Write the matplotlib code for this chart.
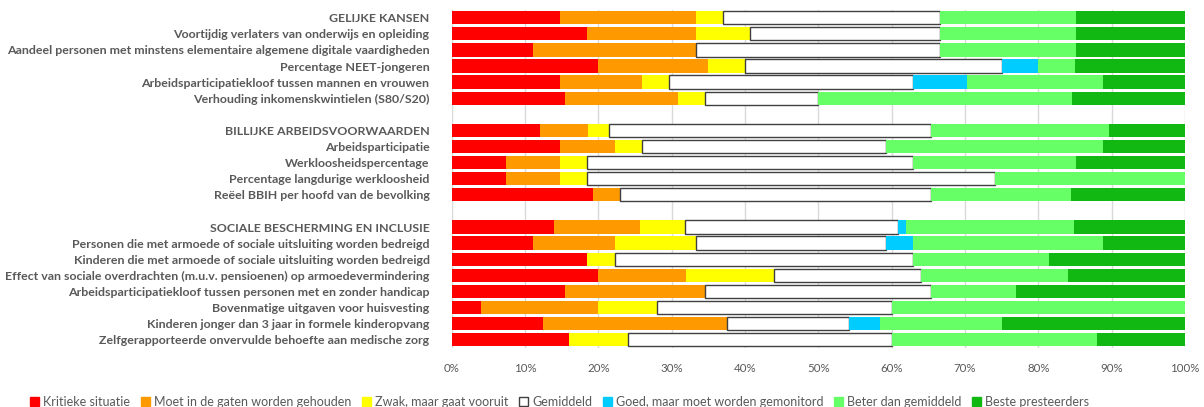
import numpy as np
import matplotlib
matplotlib.use("Agg")
import matplotlib.pyplot as plt
from matplotlib.patches import Patch

plt.rcParams['font.family'] = ['Lato', 'DejaVu Sans']

# rijen van boven naar onder, '' = lege tussenregel
labels = ["GELIJKE KANSEN",
          "Voortijdig verlaters van onderwijs en opleiding",
          "Aandeel personen met minstens elementaire algemene digitale vaardigheden",
          "Percentage NEET-jongeren",
          "Arbeidsparticipatiekloof tussen mannen en vrouwen",
          "Verhouding inkomenskwintielen (S80/S20)",
          "",
          "BILLIJKE ARBEIDSVOORWAARDEN",
          "Arbeidsparticipatie",
          "Werkloosheidspercentage",
          "Percentage langdurige werkloosheid",
          "Reëel BBIH per hoofd van de bevolking",
          "",
          "SOCIALE BESCHERMING EN INCLUSIE",
          "Personen die met armoede of sociale uitsluiting worden bedreigd",
          "Kinderen die met armoede of sociale uitsluiting worden bedreigd",
          "Effect van sociale overdrachten (m.u.v. pensioenen) op armoedevermindering",
          "Arbeidsparticipatiekloof tussen personen met en zonder handicap",
          "Bovenmatige uitgaven voor huisvesting",
          "Kinderen jonger dan 3 jaar in formele kinderopvang",
          "Zelfgerapporteerde onvervulde behoefte aan medische zorg"]

series = ["Kritieke situatie", "Moet in de gaten worden gehouden", "Zwak, maar gaat vooruit",
          "Gemiddeld", "Goed, maar moet worden gemonitord", "Beter dan gemiddeld",
          "Beste presteerders"]

# aandelen in %
kritiek = [14.8, 18.5, 11.1, 20.0, 14.8, 15.4, 0, 12.1, 14.8, 7.4, 7.4, 19.2, 0,
           14.0, 11.1, 18.5, 20.0, 15.4, 4.0, 12.5, 16.0]
gaten = [18.5, 14.8, 22.2, 15.0, 11.1, 15.4, 0, 6.5, 7.4, 7.4, 7.4, 3.8, 0,
         11.7, 11.1, 0, 12.0, 19.2, 16.0, 25.0, 0]
zwak = [3.7, 7.4, 0, 5.0, 3.7, 3.8, 0, 2.8, 3.7, 3.7, 3.7, 0, 0,
        6.1, 11.1, 3.7, 12.0, 0, 8.0, 0, 8.0]
gemiddeld = [29.6, 25.9, 33.3, 35.0, 33.3, 15.4, 0, 43.9, 33.3, 44.4, 55.6, 42.3, 0,
             29.1, 25.9, 40.7, 20.0, 30.8, 32.0, 16.7, 36.0]
goed = [0, 0, 0, 5.0, 7.4, 0, 0, 0, 0, 0, 0, 0, 0,
        1.1, 3.7, 0, 0, 0, 0, 4.2, 0]
beter = [18.5, 18.5, 18.5, 5.0, 18.5, 34.6, 0, 24.3, 29.6, 22.2, 25.9, 19.2, 0,
         22.9, 25.9, 18.5, 20.0, 11.5, 40.0, 16.7, 28.0]
beste = [14.9, 14.9, 14.9, 15.0, 11.2, 15.4, 0, 10.4, 11.2, 14.9, 0, 15.5, 0,
         15.1, 11.2, 18.6, 16.0, 23.1, 0, 24.9, 12.0]

waarden = [kritiek, gaten, zwak, gemiddeld, goed, beter, beste]
kleuren = ["#FF0000", "#FF9900", "#FFFF00", "#FFFFFF", "#00CCFF", "#66FF66", "#12B812"]
tekst = "#595959"

fig = plt.figure(figsize=(12.04, 4.07), dpi=100)
ax = fig.add_axes([0.3752, 0.1455, 0.6090, 0.8308])

y = np.arange(len(labels))
links = np.zeros(len(labels))
for naam, w, kl in zip(series, waarden, kleuren):
    w = np.array(w, dtype=float)
    m = w > 0
    if naam == "Gemiddeld":
        ax.barh(y[m], w[m], left=links[m], height=0.83, color=kl, edgecolor="#404040",
                linewidth=1.0, zorder=3)
    else:
        ax.barh(y[m], w[m], left=links[m], height=0.83, color=kl, linewidth=0, zorder=3)
    links += w

ax.set_xlim(0, 100)
ax.set_ylim(len(labels) - 0.5, -0.5)
ax.set_xticks(np.arange(0, 101, 10))
ax.set_xticklabels([f"{v}%" for v in range(0, 101, 10)])
ax.set_yticks(y)
ax.set_yticklabels(labels)
ax.grid(axis="x", color="#D9D9D9", linewidth=1, zorder=0)
for s in ax.spines.values():
    s.set_visible(False)
ax.tick_params(axis="both", length=0, colors=tekst)
ax.tick_params(axis="y", pad=16)
ax.tick_params(axis="x", pad=11)
for t in ax.get_yticklabels():
    t.set_fontweight("bold")
    t.set_fontsize(8.9)
for t in ax.get_xticklabels():
    t.set_fontsize(8.3)

handles = [Patch(facecolor=kl, edgecolor=("#404040" if kl == "#FFFFFF" else kl),
                 linewidth=1) for kl in kleuren]
leg = fig.legend(handles, series, loc="center", bbox_to_anchor=(0.4647, 0.012), ncol=7,
                 frameon=False, fontsize=9, handlelength=0.75, handleheight=0.75,
                 handletextpad=0.3, columnspacing=0.85, labelcolor=tekst)

fig.savefig("out.png", dpi=100)
